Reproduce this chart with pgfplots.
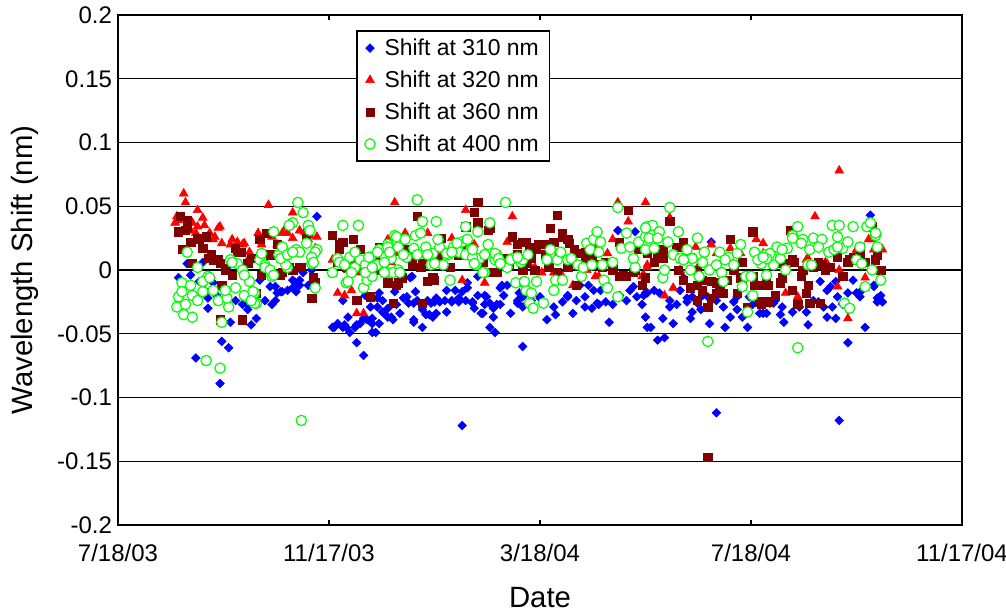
\documentclass[border=0pt]{standalone}
\usepackage{fontspec}
\setmainfont{Liberation Sans}
\usepackage{pgfplots}
\pgfplotsset{compat=1.18}
\definecolor{maroon}{RGB}{128,0,0}
\definecolor{lgreen}{RGB}{0,255,0}
\begin{document}
\begin{tikzpicture}
\useasboundingbox (-88.5pt,-66pt) rectangle (666pt,393.75pt);
\begin{axis}[
  at={(0,0)}, anchor=south west,
  scale only axis, width=633pt, height=382.5pt,
  xmin=0, xmax=488, ymin=-0.2, ymax=0.2,
  xtick={0,122,244,366,488},
  xticklabels={7/18/03,11/17/03,3/18/04,7/18/04,11/17/04},
  ytick={-0.2,-0.15,-0.1,-0.05,0,0.05,0.1,0.15,0.2},
  yticklabels={-0.2,-0.15,-0.1,-0.05,0,0.05,0.1,0.15,0.2},
  ymajorgrids, grid style={black, line width=0.8pt},
  axis line style={line width=1.5pt},
  tick align=inside, major tick length=4pt,
  tick style={black, line width=0.8pt},
  ytick style={draw=none},
  ticklabel style={font=\fontsize{18}{21}\selectfont},
  xticklabel style={yshift=-11pt},
  yticklabel style={xshift=-1pt},
  xlabel={Date}, ylabel={Wavelength Shift (nm)},
  label style={font=\fontsize{22}{26}\selectfont},
  xlabel style={at={(axis description cs:0.5,-0.1431)}, anchor=center},
  ylabel style={at={(axis description cs:-0.1102,0.5)}, anchor=center},
  legend style={at={(axis description cs:0.282,0.9706)}, anchor=north west,
    draw=black, line width=1.2pt, fill=white,
    font=\fontsize{17.2}{20}\selectfont, row sep=6pt, column sep=5pt,
    inner xsep=6pt, inner ysep=4pt},
  legend cell align=left,
]
\addplot[only marks, mark=square*, mark size=2.3pt, color=blue,
  mark options={rotate=45, line width=0.4pt}] table {
35 -0.006
37 -0.010
40 0.005
42 -0.004
45 -0.069
47 -0.009
50 -0.016
52 -0.022
52 -0.030
55 -0.010
57 -0.020
59 -0.089
60 -0.056
61 -0.041
64 -0.061
65 -0.041
68 -0.024
72 -0.027
75 -0.031
77 -0.043
80 -0.038
82 -0.008
85 -0.024
88 -0.013
89 -0.027
91 -0.013
91 -0.024
92 -0.018
94 -0.017
95 -0.017
98 -0.016
101 -0.008
103 -0.017
105 -0.008
107 -0.002
110 -0.012
112 0.000
115 0.042
124 -0.045
127 -0.042
130 -0.024
131 -0.043
132 -0.045
133 -0.037
134 -0.049
137 -0.045
138 -0.057
140 -0.042
142 -0.067
144 -0.039
146 -0.029
147 -0.038
149 -0.049
150 -0.029
151 -0.042
151 -0.018
153 -0.024
154 -0.034
156 -0.030
158 -0.037
160 -0.017
161 -0.027
163 -0.034
165 -0.022
167 -0.021
168 -0.026
169 -0.006
171 -0.041
172 -0.017
173 -0.024
176 -0.045
178 -0.035
179 -0.024
181 -0.026
182 -0.037
184 -0.022
186 -0.025
189 -0.024
190 -0.016
193 -0.025
195 -0.016
197 -0.025
199 -0.017
199 -0.122
201 -0.024
202 -0.010
205 -0.026
206 -0.030
208 -0.020
210 -0.034
212 -0.027
213 -0.021
215 -0.045
217 -0.037
218 -0.049
219 -0.027
221 -0.014
223 -0.020
225 -0.012
227 -0.034
231 -0.026
232 -0.018
234 -0.060
234 -0.029
237 -0.026
239 -0.024
244 -0.022
248 -0.039
252 -0.029
253 -0.035
257 -0.025
260 -0.020
263 -0.034
265 -0.024
270 -0.021
272 -0.012
274 -0.030
277 -0.026
279 -0.016
282 -0.025
284 -0.041
286 -0.027
289 0.031
290 -0.020
294 -0.024
296 -0.016
299 0.030
300 -0.021
303 -0.027
306 -0.045
306 -0.018
308 -0.045
310 -0.016
312 -0.055
315 -0.038
316 -0.053
319 -0.029
321 -0.042
323 -0.027
327 -0.006
329 -0.022
331 -0.038
332 -0.033
335 -0.026
338 -0.020
342 -0.042
343 0.022
346 -0.112
346 -0.024
350 -0.029
351 -0.045
356 -0.025
358 -0.031
361 -0.037
364 -0.045
367 -0.027
371 -0.034
373 -0.034
375 -0.034
377 -0.026
380 -0.024
384 -0.029
385 -0.041
390 -0.033
393 -0.024
398 -0.033
399 -0.043
402 -0.024
406 -0.009
410 -0.016
410 -0.037
412 -0.013
413 -0.029
415 -0.009
416 -0.021
417 -0.118
419 -0.027
422 -0.018
422 -0.057
425 -0.008
427 -0.018
430 -0.016
432 -0.045
435 0.043
437 -0.012
439 -0.025
439 -0.022
441 -0.020
442 -0.025
49 0.006
75 -0.027
63 0.002
102 -0.009
105 -0.012
101 -0.014
125 -0.045
130 -0.045
138 -0.043
142 -0.038
147 -0.042
153 -0.033
156 -0.037
150 -0.022
159 -0.039
143 -0.020
147 -0.049
170 -0.005
171 -0.026
176 -0.031
171 -0.039
183 -0.025
184 -0.034
193 -0.024
197 -0.022
205 -0.025
202 -0.014
208 -0.005
212 -0.020
215 -0.026
211 -0.034
217 -0.030
221 -0.027
222 -0.012
231 -0.024
234 -0.021
180 -0.035
190 -0.033
238 -0.025
244 -0.021
260 -0.021
267 -0.012
275 -0.016
283 -0.012
298 -0.013
305 -0.018
270 -0.029
278 -0.027
304 -0.020
313 -0.018
319 -0.024
329 -0.025
332 -0.021
337 -0.031
341 -0.021
354 -0.037
358 -0.021
365 -0.021
373 -0.026
305 -0.037
325 -0.016
379 -0.026
383 -0.035
394 -0.029
405 -0.025
408 -0.029
423 -0.029
429 -0.021
437 -0.013
415 -0.038
419 -0.026
};
\addlegendentry{Shift at 310 nm}
\addplot[only marks, mark=triangle*, mark size=3.8pt, color=red,
  mark options={line width=0.4pt}] table {
33 0.037
35 0.039
38 0.060
39 0.053
40 0.031
43 0.037
45 0.029
46 0.047
46 0.026
49 0.041
50 0.035
51 0.024
53 0.029
55 0.024
58 0.033
60 0.021
65 0.020
68 0.016
69 0.022
73 0.021
76 0.010
81 0.029
83 0.020
87 0.051
89 0.026
92 0.020
95 0.029
97 0.033
101 0.045
105 0.031
110 0.024
114 0.017
115 0.026
124 0.008
127 -0.018
128 0.016
131 -0.020
133 0.000
135 -0.016
138 -0.034
140 -0.002
142 -0.034
146 0.004
150 0.009
156 0.024
158 0.006
160 0.053
162 0.013
166 0.029
172 0.016
179 0.029
186 0.012
193 0.025
199 -0.008
201 0.047
206 0.020
212 -0.010
218 0.012
225 0.022
228 0.042
232 0.008
238 0.004
245 -0.002
253 0.009
263 -0.012
270 0.006
276 0.016
278 -0.005
283 0.013
286 0.024
289 0.053
295 0.038
299 0.020
304 -0.004
305 0.053
306 0.002
306 0.004
316 -0.020
319 0.041
321 -0.014
328 0.012
336 0.004
343 0.020
354 0.017
360 0.006
369 0.024
373 0.021
380 0.004
386 -0.018
393 -0.021
399 0.009
403 0.042
409 0.006
416 -0.013
417 0.078
417 0.000
422 -0.038
426 0.012
432 -0.006
434 0.024
437 0.016
442 0.016
34 0.042
59 0.034
56 0.026
46 0.034
66 0.024
76 0.014
98 0.029
72 0.020
42 0.031
111 0.027
101 0.025
108 0.030
195 0.018
241 0.002
252 -0.002
257 -0.005
271 0.000
276 -0.005
280 0.002
303 -0.005
306 0.013
334 0.018
346 0.013
360 0.013
373 0.013
325 0.000
375 0.010
382 0.016
398 0.008
410 0.005
427 0.016
435 0.024
438 0.010
};
\addlegendentry{Shift at 320 nm}
\addplot[only marks, mark=square*, mark size=3.1pt, color=maroon,
  mark options={line width=0.4pt}] table {
35 0.030
36 0.042
37 0.016
39 0.031
40 0.039
42 0.022
43 0.005
46 0.025
47 0.024
49 0.017
52 0.009
54 0.012
58 0.008
59 -0.039
62 0.000
65 0.006
68 0.017
71 0.014
72 -0.039
75 0.005
77 0.009
80 -0.018
82 0.024
83 -0.004
86 0.029
88 0.012
92 0.020
95 -0.002
99 0.002
106 0.002
109 0.025
112 -0.022
113 -0.006
124 0.027
127 0.006
128 0.020
132 0.002
136 0.024
138 -0.024
140 0.016
143 0.004
146 -0.021
149 0.000
151 0.018
156 -0.010
159 -0.026
162 -0.010
164 -0.006
169 0.012
173 0.042
175 0.002
176 -0.026
179 -0.009
182 -0.006
183 0.006
187 0.025
192 0.002
197 0.012
202 0.020
206 0.045
208 0.053
208 0.037
211 0.006
215 0.033
216 -0.002
219 -0.002
224 0.009
228 0.026
231 0.020
234 0.000
235 0.006
236 0.022
239 0.009
243 0.020
247 0.012
250 0.033
254 0.043
257 0.029
260 0.024
264 0.016
265 -0.012
270 0.009
276 0.004
282 0.006
286 0.002
290 -0.005
294 -0.005
295 0.047
299 0.000
303 -0.012
310 0.006
315 0.009
319 0.038
324 0.000
327 -0.008
331 -0.014
335 -0.012
338 -0.016
341 -0.029
341 -0.147
343 -0.009
346 -0.018
348 -0.012
350 -0.018
354 0.024
358 -0.018
360 -0.006
364 -0.029
367 0.030
368 -0.012
371 -0.025
372 -0.027
376 -0.012
380 -0.020
384 -0.006
389 0.031
391 0.006
393 -0.027
395 -0.005
399 -0.012
400 -0.026
405 0.006
409 0.000
416 0.010
419 -0.005
423 0.008
429 0.018
432 0.006
436 0.034
439 0.012
441 0.000
40 0.034
55 0.008
59 0.005
69 0.014
66 -0.004
60 -0.012
94 -0.004
51 0.026
130 0.022
128 0.016
136 0.006
161 -0.012
114 -0.010
105 0.002
101 0.000
166 0.016
151 0.006
201 0.034
214 0.031
176 0.005
183 -0.008
231 0.012
226 0.004
170 0.004
185 0.009
234 0.022
238 0.018
242 0.016
247 0.020
252 0.022
257 0.026
261 0.021
236 0.005
241 0.000
249 0.002
254 -0.002
260 0.002
266 0.013
270 0.014
274 0.010
280 0.002
286 0.000
292 -0.004
298 -0.002
305 -0.006
301 0.016
290 0.022
306 0.013
312 0.010
315 0.016
323 0.018
327 0.022
331 0.010
335 0.000
338 -0.008
346 -0.010
352 -0.008
356 0.000
361 0.006
361 -0.008
367 -0.005
373 -0.012
335 -0.024
343 -0.022
348 -0.014
375 -0.009
383 -0.010
385 0.005
390 0.008
396 0.000
402 0.002
407 0.004
412 0.002
422 0.006
425 0.010
429 0.013
438 0.008
390 -0.016
398 -0.018
406 -0.026
376 -0.025
};
\addlegendentry{Shift at 360 nm}
\addplot[only marks, mark=*, mark size=3.9pt, color=lgreen,
  mark options={fill=white, draw=lgreen, line width=0.9pt}] table {
34 -0.029
35 -0.021
37 -0.010
38 -0.035
39 -0.027
40 0.014
43 -0.037
43 -0.020
46 0.002
46 -0.024
49 -0.017
51 -0.071
52 -0.005
55 -0.016
58 -0.024
59 -0.077
60 -0.041
64 -0.029
65 0.008
68 -0.014
69 0.005
72 0.000
73 -0.020
76 -0.009
79 -0.018
80 -0.026
82 0.008
85 0.004
89 -0.005
90 0.030
93 0.012
95 0.018
98 0.002
101 0.037
103 0.016
104 0.053
106 -0.118
107 0.045
109 0.021
110 0.035
111 0.031
112 0.005
114 -0.014
115 0.016
124 -0.002
127 0.009
128 0.006
130 0.035
132 -0.010
134 0.010
137 0.002
139 0.035
140 0.008
142 -0.014
143 0.004
144 -0.008
146 0.010
147 -0.005
150 0.004
151 0.016
156 0.020
156 -0.002
158 0.009
160 0.027
162 0.000
164 0.024
167 0.010
171 0.017
172 0.027
173 0.055
176 0.038
178 0.013
181 0.004
182 0.013
184 0.038
186 0.018
188 0.004
191 0.012
192 -0.008
194 0.018
197 0.014
199 0.022
201 0.034
202 0.024
204 0.016
207 0.004
208 0.030
209 0.009
212 -0.002
214 0.020
215 0.037
218 0.008
219 0.012
221 0.006
224 0.053
225 0.002
228 0.009
230 -0.010
233 0.006
234 0.008
235 -0.010
236 -0.016
237 0.012
238 -0.026
239 -0.018
240 -0.030
242 -0.009
246 -0.026
248 0.008
250 0.016
252 -0.016
253 -0.008
254 0.008
256 0.014
257 -0.008
260 0.008
262 0.009
266 0.004
268 -0.005
269 0.002
271 0.021
273 0.016
274 0.004
275 0.024
277 0.030
278 0.014
279 0.022
280 0.004
281 -0.008
283 -0.014
286 0.006
289 0.049
289 -0.021
291 0.017
294 0.029
296 0.018
298 0.009
299 0.002
301 0.022
305 0.026
305 0.016
306 0.034
307 0.025
309 0.035
310 0.017
313 0.030
315 -0.006
316 0.000
318 0.022
319 0.049
321 0.012
324 0.030
325 0.009
329 0.016
331 0.000
332 0.009
335 0.025
336 -0.005
338 0.006
339 0.014
341 -0.056
342 0.000
346 0.004
349 -0.002
350 -0.009
353 0.010
356 0.004
360 0.020
361 -0.013
363 -0.005
364 -0.033
366 -0.005
367 -0.020
368 0.014
372 0.005
374 0.012
375 -0.004
377 0.013
379 0.004
381 0.018
383 0.009
386 0.000
387 0.017
390 0.027
393 0.034
393 -0.061
396 0.024
399 0.004
401 0.004
402 0.025
407 0.024
411 0.014
413 0.035
414 0.016
417 0.035
419 0.017
420 -0.026
422 0.022
423 -0.030
425 0.034
427 0.008
430 0.005
432 -0.013
433 0.034
435 0.037
436 0.000
438 0.027
441 -0.008
37 -0.017
42 -0.012
49 -0.009
53 -0.006
63 -0.022
62 -0.016
66 0.006
73 -0.004
78 -0.017
79 -0.026
77 -0.024
83 0.013
85 0.002
88 0.000
90 -0.004
97 0.004
94 0.009
98 0.012
99 0.035
114 0.014
112 0.010
113 0.006
105 0.014
101 0.014
131 0.004
137 0.014
135 -0.002
133 -0.009
145 0.010
143 -0.002
147 0.002
150 0.014
154 0.006
156 0.018
157 0.014
161 0.026
162 0.018
166 0.024
165 0.012
159 -0.002
163 -0.002
154 -0.002
175 0.029
173 0.012
178 0.018
179 0.012
185 0.024
183 0.005
190 0.013
193 0.014
196 0.021
201 0.012
205 0.010
205 0.016
212 0.012
206 0.005
211 -0.002
218 0.013
220 0.009
221 0.005
227 0.008
231 0.010
235 -0.009
327 0.008
348 0.014
351 0.008
358 0.013
370 0.008
375 0.009
312 0.025
305 0.033
373 0.010
384 0.016
390 0.025
395 0.021
400 0.016
405 0.018
416 0.018
416 0.026
429 0.018
438 0.029
439 0.018
};
\addlegendentry{Shift at 400 nm}
\end{axis}
\end{tikzpicture}
\end{document}
